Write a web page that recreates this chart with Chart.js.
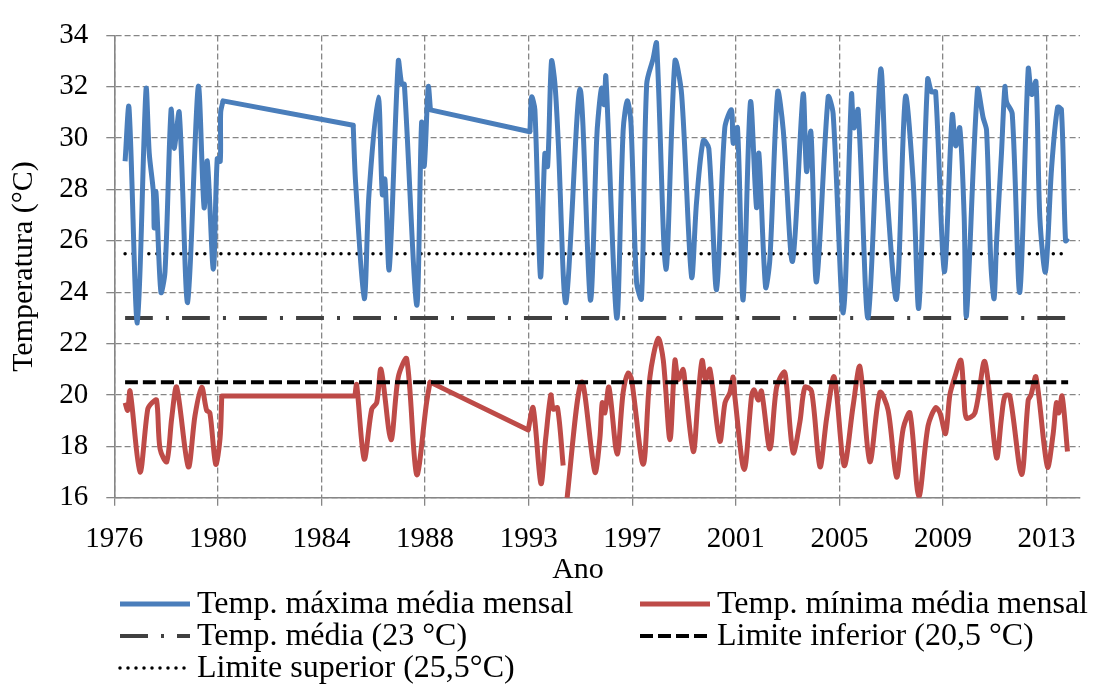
<!DOCTYPE html>
<html lang="pt">
<head>
<meta charset="utf-8">
<title>Temperatura máxima e mínima média mensal</title>
<script src="https://cdn.jsdelivr.net/npm/chart.js@4.4.0/dist/chart.umd.min.js"></script>
<style>
  html, body { margin: 0; padding: 0; background: #fff; }
  #wrap { width: 1097px; height: 690px; }
</style>
</head>
<body>
<div id="wrap"><canvas id="grafico" width="1097" height="690"></canvas></div>
<script>
// --- Dados (eixo x = posição da observação na série; um rótulo de ano a cada 48 posições) ---
const rotulosAno = ['1976', '1980', '1984', '1988', '1993', '1997', '2001', '2005', '2009', '2013'];
const passoRotulo = 48;
const posicaoFinal = 447.5;

const xMaxima = [5.0, 6.8, 10.7, 14.7, 16.2, 18.1, 18.5, 19.3, 21.6, 23.5, 26.3, 27.7, 30.1, 34.0, 38.9, 41.6, 43.1, 45.9, 47.7, 49.1, 49.3, 50.4,
  110.7, 111.8, 115.8, 118.0, 122.3, 124.2, 125.4, 127.4, 131.6, 133.2, 134.4, 140.1, 142.4, 143.6, 145.5, 146.5,
  192.6, 193.4, 194.9, 197.5, 199.5, 200.8, 202.6, 204.2, 205.7, 209.3, 215.8, 220.6, 223.5, 224.2, 225.8, 227.0, 227.8,
  232.8, 235.8, 237.7, 239.4, 242.0, 244.3, 246.7, 249.7, 251.3, 255.6, 259.8, 262.9, 267.5, 269.8, 272.9, 275.5,
  279.1, 282.9, 286.0, 286.8, 288.8, 291.4, 294.8, 297.6, 298.7, 301.8, 303.8, 307.4, 310.0, 314.3, 319.2, 320.8,
  322.8, 325.4, 330.8, 333.1, 337.8, 341.6, 342.7, 344.7, 349.3, 355.1, 357.8, 362.5, 366.6, 370.2, 372.8, 376.9,
  378.7, 380.6, 384.6, 388.3, 389.9, 391.8, 393.8, 394.9, 400.0, 402.6, 404.2, 406.2, 407.7, 408.8, 411.1, 412.7,
  413.5, 416.1, 419.6, 423.5, 425.1, 427.1, 428.9, 431.5, 434.3, 437.1, 438.9, 440.8, 442.0];
const tMaxima = [29.1, 31.2, 22.8, 31.9, 29.4, 27.9, 26.5, 27.9, 24.0, 24.8, 31.1, 29.6, 31.0, 23.6, 32.0, 27.3, 29.1, 24.9, 29.2, 29.1, 31.0, 31.45,
  30.5, 28.3, 23.75, 27.8, 31.6, 27.8, 28.4, 24.9, 33.0, 32.1, 32.1, 23.5, 30.6, 28.9, 32.0, 31.1,
  30.25, 31.6, 31.1, 24.6, 29.4, 28.9, 33.0, 32.1, 29.9, 23.6, 31.9, 23.7, 29.9, 30.8, 31.95, 31.3, 32.4,
  23.0, 30.3, 31.45, 30.6, 24.4, 23.75, 32.1, 33.1, 33.7, 24.9, 33.0, 31.7, 24.6, 27.5, 29.9, 29.6,
  24.1, 30.4, 31.1, 29.8, 30.4, 23.7, 31.4, 27.3, 29.4, 24.2, 25.3, 31.8, 30.3, 25.2, 31.7, 28.7,
  30.25, 24.4, 31.6, 30.95, 23.2, 31.7, 30.4, 31.1, 23.0, 32.65, 28.2, 23.75, 31.6, 28.3, 23.4, 32.3,
  31.8, 31.8, 24.8, 30.9, 29.7, 30.4, 27.0, 23.1, 31.9, 30.8, 30.3, 25.1, 23.75, 25.9, 29.4, 32.0,
  31.4, 30.95, 24.0, 32.7, 31.7, 32.2, 26.9, 24.8, 28.8, 31.2, 31.1, 26.0, 26.1];
// períodos sem observações (ligados por linha reta)
const lacunasMaxima = [[50.4, 110.7], [146.5, 192.6]];

const xMinima = [5.0, 6.2, 7.3, 11.9, 15.5, 17.5, 19.6, 21.2, 24.3, 26.6, 28.9, 34.3, 37.4, 40.5, 42.8, 44.3, 47.0, 49.0, 49.8,
  111.5, 112.3, 115.8, 119.3, 121.6, 123.6, 128.2, 131.6, 135.5, 140.1, 144.7, 146.3,
  191.8, 194.1, 197.7, 199.9, 202.3, 203.4, 205.4, 208.0, 208.7, 209.3, 216.5, 222.7, 225.0, 226.1, 227.3, 229.2,
  233.0, 235.8, 238.1, 239.7, 245.1, 248.2, 252.0, 254.4, 257.5, 259.8, 261.3, 263.6, 264.4, 268.3, 270.6, 272.4,
  274.0, 276.0, 280.6, 283.0, 285.3, 286.8, 287.6, 291.9, 295.3, 296.5, 298.4, 299.9, 303.8, 306.9, 310.4, 311.5,
  314.6, 317.7, 320.0, 323.1, 327.0, 330.1, 333.6, 338.2, 342.4, 345.5, 350.1, 354.8, 358.6, 362.5, 365.6, 368.7,
  372.8, 377.1, 380.6, 382.6, 385.2, 387.2, 389.5, 392.3, 393.8, 394.9, 398.8, 403.4, 408.8, 411.1, 412.7, 415.0,
  420.4, 423.5, 424.8, 427.1, 432.4, 435.0, 436.6, 437.7, 439.2, 441.7];
const tMinima = [19.7, 19.4, 20.15, 17.0, 19.45, 19.7, 19.8, 17.9, 17.4, 19.1, 20.3, 17.2, 19.2, 20.3, 19.4, 19.3, 17.3, 18.3, 19.96,
  19.96, 20.4, 17.5, 19.45, 19.7, 21.0, 18.26, 20.7, 21.4, 16.9, 19.7, 20.5,
  18.64, 19.5, 16.55, 18.3, 20.0, 19.45, 19.5, 17.25, null, 15.6, 20.5, 17.0, 18.3, 19.7, 19.3, 20.3,
  17.7, 20.1, 20.85, 20.6, 17.3, 20.7, 22.2, 21.35, 18.26, 21.35, 20.6, 21.0, 20.5, 17.8, 19.96, 21.35,
  20.6, 21.0, 18.2, 19.7, 20.1, 20.7, 19.9, 17.1, 19.96, 20.2, 19.8, 20.15, 17.9, 20.3, 20.9, 20.4,
  17.75, 18.95, 20.3, 20.15, 17.2, 19.1, 20.7, 17.25, 19.6, 21.1, 17.4, 20.1, 19.4, 16.8, 18.7, 19.3,
  16.05, 18.8, 19.5, 19.3, 18.5, 20.0, 20.7, 21.35, 19.8, 19.1, 19.3, 21.3, 17.56, 19.1, 19.96, 19.96,
  16.9, 19.8, 20.0, 20.7, 17.2, 18.45, 19.7, 19.3, 19.96, 17.8];
const lacunasMinima = [[49.8, 111.5], [146.3, 191.8]];

const xLimites = [5, 442];
const tempMedia = 23;
const limiteInferior = 20.5;
const limiteSuperior = 25.5;

const nomesSeries = [
  'Temp. máxima média mensal',
  'Temp. mínima média mensal',
  'Temp. média (23 °C)',
  'Limite inferior (20,5 °C)',
  'Limite superior (25,5°C)'
];

const FONTE = '"Liberation Serif", "Times New Roman", serif';
const COR_GRADE = '#868686';
const AZUL = '#4A7EBB';
const VERMELHO = '#BE4B48';

// curva suavizada, interrompida nas lacunas
function comQuebras(xs, ys, lacunas) {
  const pts = [];
  xs.forEach((x, i) => {
    pts.push({ x: x, y: ys[i] });
    if (lacunas.some(l => l[0] === x)) pts.push({ x: x + 0.01, y: null });
  });
  return pts;
}
// trechos retos que atravessam as lacunas
function pontes(xs, ys, lacunas) {
  const pts = [];
  lacunas.forEach(([a, b]) => {
    pts.push({ x: a, y: ys[xs.indexOf(a)] }, { x: b, y: ys[xs.indexOf(b)] }, { x: b + 0.01, y: null });
  });
  return pts;
}
const constante = (v) => xLimites.map(x => ({ x: x, y: v }));

// legenda desenhada em grade de 2 colunas, como no original
const legendaGrade = {
  id: 'legendaGrade',
  afterDraw(chart) {
    const ctx = chart.ctx;
    const itens = [
      { ds: 0, x: 120, y: 604 }, { ds: 1, x: 640, y: 604 },
      { ds: 2, x: 120, y: 636 }, { ds: 3, x: 640, y: 636 },
      { ds: 4, x: 120, y: 668 }
    ];
    ctx.save();
    ctx.font = '32px ' + FONTE;
    ctx.textBaseline = 'middle';
    ctx.fillStyle = '#000';
    itens.forEach(it => {
      const ds = chart.data.datasets[it.ds];
      ctx.save();
      ctx.strokeStyle = ds.borderColor;
      ctx.lineWidth = ds.borderWidth;
      ctx.lineCap = ds.borderCapStyle || 'butt';
      ctx.setLineDash(ds.borderDash || []);
      ctx.beginPath();
      ctx.moveTo(it.x, it.y);
      ctx.lineTo(it.x + 70, it.y);
      ctx.stroke();
      ctx.restore();
      ctx.fillText(ds.label, it.x + 77, it.y + 1);
    });
    // título do eixo x
    ctx.font = '30px ' + FONTE;
    ctx.textAlign = 'center';
    ctx.fillText('Ano', 578, 570);
    ctx.restore();
  }
};

const gradeComum = { color: COR_GRADE, lineWidth: 1.3, tickLength: 8, tickBorderDash: [], tickColor: COR_GRADE, tickWidth: 1.3 };
const bordaComum = { color: COR_GRADE, width: 1.6, dash: [6, 3] };

new Chart(document.getElementById('grafico'), {
  type: 'line',
  data: {
    datasets: [
      { label: nomesSeries[0], data: comQuebras(xMaxima, tMaxima, lacunasMaxima), borderColor: AZUL, borderWidth: 5, order: 1 },
      { label: nomesSeries[1], data: comQuebras(xMinima, tMinima, lacunasMinima), borderColor: VERMELHO, borderWidth: 5, order: 2 },
      { label: nomesSeries[2], data: constante(tempMedia), borderColor: '#404040', borderWidth: 4, borderDash: [28, 13, 3, 13], order: 3 },
      { label: nomesSeries[3], data: constante(limiteInferior), borderColor: '#000000', borderWidth: 4, borderDash: [13, 5], order: 0 },
      { label: nomesSeries[4], data: constante(limiteSuperior), borderColor: '#000000', borderWidth: 3.5, borderDash: [0, 8], borderCapStyle: 'round', order: 4 },
      { label: 'ponte máx.', data: pontes(xMaxima, tMaxima, lacunasMaxima), borderColor: AZUL, borderWidth: 5, tension: 0, borderCapStyle: 'round', order: 1 },
      { label: 'ponte mín.', data: pontes(xMinima, tMinima, lacunasMinima), borderColor: VERMELHO, borderWidth: 5, tension: 0, borderCapStyle: 'round', order: 2 }
    ]
  },
  options: {
    responsive: false,
    animation: false,
    spanGaps: false,
    elements: {
      point: { radius: 0 },
      line: { tension: 0.3, fill: false, borderJoinStyle: 'round' }
    },
    layout: { padding: { left: 0, top: 22.7, right: 17, bottom: 117.3 } },
    plugins: {
      legend: { display: false },
      tooltip: { enabled: false }
    },
    scales: {
      x: {
        type: 'linear',
        min: 0,
        max: posicaoFinal,
        afterBuildTicks: (s) => { s.ticks = rotulosAno.map((_, i) => ({ value: i * passoRotulo })); },
        afterFit: (s) => { s.height = 75; },
        ticks: {
          callback: (v) => rotulosAno[Math.round(v / passoRotulo)],
          font: { family: FONTE, size: 29 },
          color: '#000',
          padding: 16,
          maxRotation: 0,
          autoSkip: false
        },
        grid: gradeComum,
        border: bordaComum
      },
      y: {
        min: 16,
        max: 34,
        afterFit: (s) => { s.width = 114.3; },
        ticks: {
          stepSize: 2,
          font: { family: FONTE, size: 29 },
          color: '#000',
          padding: 18
        },
        title: {
          display: true,
          text: 'Temperatura (°C)',
          font: { family: FONTE, size: 30 },
          color: '#000',
          padding: { top: 6, bottom: 0 }
        },
        grid: gradeComum,
        border: bordaComum
      }
    }
  },
  plugins: [legendaGrade]
});
</script>
</body>
</html>
